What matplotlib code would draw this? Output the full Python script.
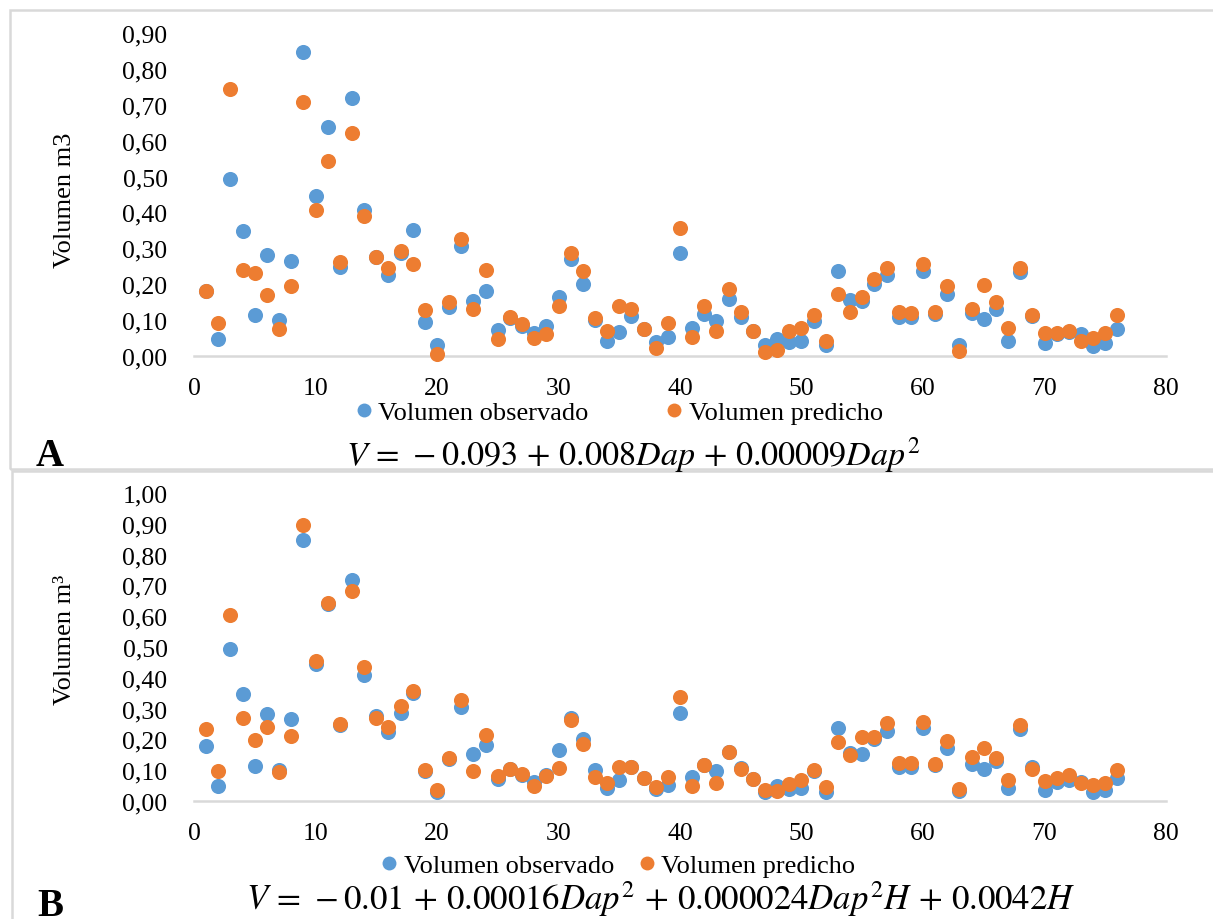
import matplotlib
matplotlib.use("Agg")
import matplotlib.pyplot as plt
from matplotlib.lines import Line2D
from matplotlib.patches import Rectangle

# ---------------- data ----------------
arboles = list(range(1, 77))

vol_observado = [0.180, 0.048, 0.493, 0.348, 0.115, 0.281, 0.100, 0.266, 0.846, 0.445,
                 0.638, 0.248, 0.718, 0.408, 0.277, 0.225, 0.287, 0.350, 0.096, 0.030,
                 0.137, 0.306, 0.152, 0.181, 0.073, 0.105, 0.083, 0.063, 0.083, 0.165,
                 0.270, 0.202, 0.100, 0.042, 0.068, 0.111, 0.074, 0.040, 0.052, 0.287,
                 0.078, 0.116, 0.098, 0.160, 0.108, 0.071, 0.030, 0.048, 0.039, 0.042,
                 0.097, 0.030, 0.237, 0.155, 0.152, 0.202, 0.226, 0.110, 0.110, 0.238,
                 0.116, 0.172, 0.032, 0.121, 0.104, 0.131, 0.042, 0.233, 0.112, 0.037,
                 0.062, 0.067, 0.061, 0.028, 0.036, 0.075]

vol_predicho_A = [0.181, 0.093, 0.745, 0.241, 0.232, 0.170, 0.074, 0.194, 0.709, 0.408,
                  0.543, 0.262, 0.621, 0.389, 0.275, 0.245, 0.292, 0.257, 0.127, 0.006,
                  0.150, 0.327, 0.130, 0.241, 0.046, 0.110, 0.089, 0.051, 0.062, 0.139,
                  0.288, 0.237, 0.107, 0.069, 0.139, 0.130, 0.075, 0.023, 0.093, 0.358,
                  0.053, 0.139, 0.069, 0.186, 0.123, 0.071, 0.011, 0.018, 0.069, 0.079,
                  0.115, 0.041, 0.173, 0.123, 0.165, 0.215, 0.245, 0.123, 0.120, 0.257,
                  0.123, 0.194, 0.014, 0.130, 0.199, 0.150, 0.079, 0.245, 0.115, 0.064,
                  0.064, 0.069, 0.043, 0.050, 0.064, 0.115]

vol_predicho_B = [0.235, 0.097, 0.603, 0.270, 0.197, 0.240, 0.093, 0.211, 0.895, 0.455,
                  0.642, 0.249, 0.682, 0.436, 0.271, 0.240, 0.309, 0.357, 0.101, 0.036,
                  0.138, 0.328, 0.098, 0.213, 0.081, 0.103, 0.089, 0.049, 0.081, 0.108,
                  0.263, 0.186, 0.079, 0.057, 0.112, 0.112, 0.076, 0.047, 0.078, 0.339,
                  0.049, 0.116, 0.057, 0.159, 0.103, 0.073, 0.036, 0.032, 0.054, 0.068,
                  0.101, 0.047, 0.192, 0.149, 0.209, 0.208, 0.252, 0.125, 0.125, 0.258,
                  0.119, 0.195, 0.038, 0.143, 0.173, 0.139, 0.068, 0.247, 0.105, 0.065,
                  0.074, 0.083, 0.057, 0.052, 0.060, 0.100]

xticks = [0, 10, 20, 30, 40, 50, 60, 70, 80]
xtick_labels = ["0", "10", "20", "30", "40", "50", "60", "70", "80"]
yticks_A = [0.0, 0.1, 0.2, 0.3, 0.4, 0.5, 0.6, 0.7, 0.8, 0.9]
ytick_labels_A = ["0,00", "0,10", "0,20", "0,30", "0,40", "0,50", "0,60", "0,70", "0,80", "0,90"]
yticks_B = [0.0, 0.1, 0.2, 0.3, 0.4, 0.5, 0.6, 0.7, 0.8, 0.9, 1.0]
ytick_labels_B = ["0,00", "0,10", "0,20", "0,30", "0,40", "0,50", "0,60", "0,70", "0,80", "0,90", "1,00"]

serie_obs = "Volumen observado"
serie_pred = "Volumen predicho"
ylabel_A = "Volumen m3"
ylabel_B = "Volumen m³"
eq_A = r"$V\,=\,-0.093\,+\,0.008Dap\,+\,0.00009Dap^{2}$"
eq_B = r"$V\,=\,-0.01\,+\,0.00016Dap^{2}\,+\,0.000024Dap^{2}H\,+\,0.0042H$"

# ---------------- style ----------------
plt.rcParams["font.family"] = ["Liberation Serif", "DejaVu Serif"]
plt.rcParams["mathtext.fontset"] = "stix"
C_OBS = "#5B9BD5"
C_PRED = "#ED7D31"
GRID = "#D9D9D9"
FS = 18.5

W, H = 1213, 920
fig = plt.figure(figsize=(W / 100, H / 100), dpi=100)


def px_rect(x0, y_top, x1, y_bot):
    return [x0 / W, 1 - y_bot / H, (x1 - x0) / W, (y_bot - y_top) / H]


# panel frames
fig.add_artist(Rectangle((10 / W, 1 - 470 / H), 1.2, (470 - 11) / H, transform=fig.transFigure,
                         fill=False, edgecolor=GRID, linewidth=1.8))
fig.add_artist(Rectangle((12 / W, 1 - 960 / H), 1.2, (960 - 472) / H, transform=fig.transFigure,
                         fill=False, edgecolor=GRID, linewidth=1.8))


def panel(rect, pred, yticks, ylabels, ylim, ylabel, ylab_y, leg_x, leg_y, leg_gap,
          eq, eq_x, eq_y, eq_fs, letter, letter_base):
    ax = fig.add_axes(rect)
    ax.scatter(arboles, vol_observado, s=118, color=C_OBS, zorder=3, linewidths=0,
               label=serie_obs, clip_on=False)
    ax.scatter(arboles, pred, s=118, color=C_PRED, zorder=4, linewidths=0,
               label=serie_pred, clip_on=False)
    ax.set_xlim(0, 80)
    ax.set_ylim(*ylim)
    ax.set_xticks(xticks)
    ax.set_xticklabels(xtick_labels, fontsize=FS)
    ax.set_yticks(yticks)
    ax.set_yticklabels(ylabels, fontsize=FS)
    ax.tick_params(length=0)
    ax.tick_params(axis="y", pad=19)
    ax.tick_params(axis="x", pad=15)
    for s in ["top", "right", "left"]:
        ax.spines[s].set_visible(False)
    ax.spines["bottom"].set_color(GRID)
    ax.spines["bottom"].set_linewidth(1.8)
    ax.spines["bottom"].set_zorder(1)
    fig.text(65 / W, 1 - ylab_y / H, ylabel, rotation=90, ha="center", va="center", fontsize=FS + 0.5)
    handles = [Line2D([], [], marker="o", linestyle="", color=C_OBS, markersize=10, markeredgewidth=0),
               Line2D([], [], marker="o", linestyle="", color=C_PRED, markersize=10, markeredgewidth=0)]
    fig.legend(handles, [serie_obs, serie_pred], loc="center", ncol=2, frameon=False,
               bbox_to_anchor=(leg_x / W, 1 - leg_y / H), fontsize=FS + 0.5,
               handlelength=0.5, handletextpad=0.3, columnspacing=leg_gap, borderpad=0)
    fig.text(eq_x / W, 1 - eq_y / H, eq, ha="center", va="center", fontsize=eq_fs)
    fig.text(50 / W, 1 - letter_base / H, letter, ha="center", va="baseline", fontsize=28,
             fontweight="bold")
    return ax


panel(px_rect(194, 34, 1166, 357), vol_predicho_A, yticks_A, ytick_labels_A, (0, 0.9),
      ylabel_A, 200, 620, 413, 3.0, eq_A, 633, 455, 24.5, "A", 466)
panel(px_rect(194, 494, 1166, 802), vol_predicho_B, yticks_B, ytick_labels_B, (0, 1.0),
      ylabel_B, 640, 619, 866, 1.0, eq_B, 661, 899, 25.0, "B", 916)

fig.savefig("out.png", dpi=100)
